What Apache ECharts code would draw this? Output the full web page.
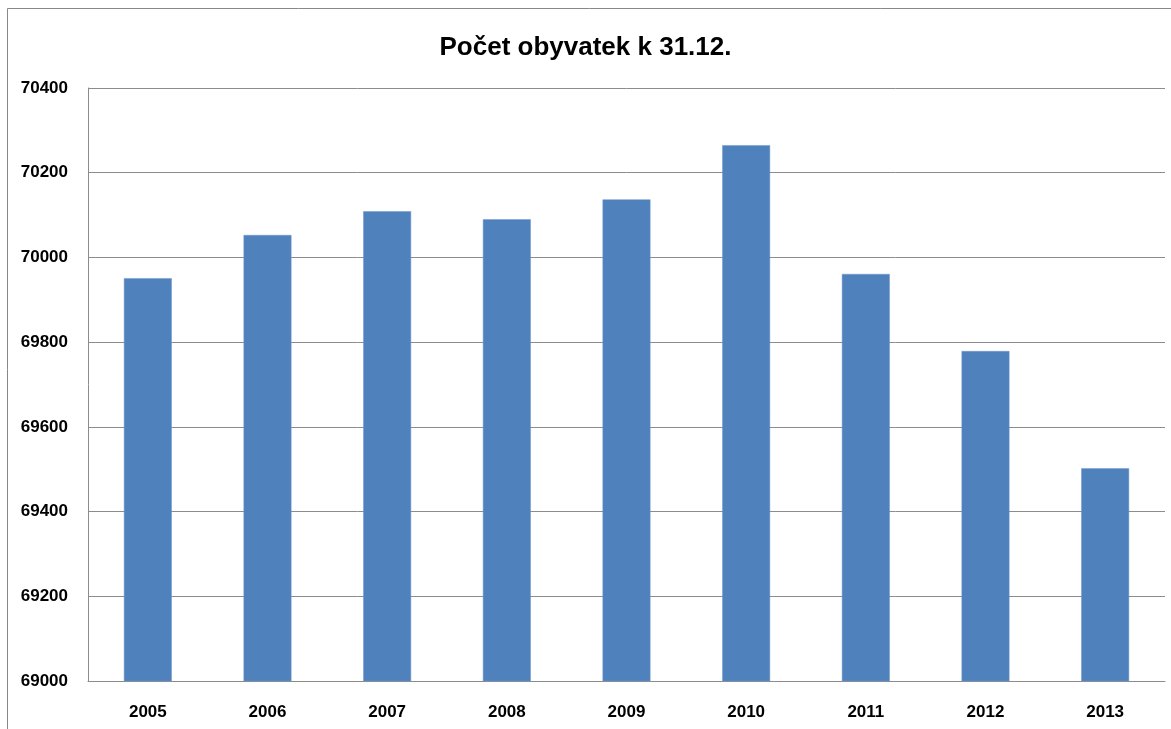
<!DOCTYPE html>
<html>
<head>
<meta charset="utf-8">
<script src="https://cdn.jsdelivr.net/npm/echarts@6/dist/echarts.min.js"></script>
<style>
html,body{margin:0;padding:0;background:#fff;}
#chart{width:1171px;height:729px;}
</style>
</head>
<body>
<div id="chart"></div>
<script>
const titleText = 'Počet obyvatek k 31.12.';
const years = ['2005','2006','2007','2008','2009','2010','2011','2012','2013'];
const population = [69951, 70053, 70109, 70090, 70137, 70265, 69961, 69779, 69502];
const yMin = 69000, yMax = 70400, yStep = 200;

const chart = echarts.init(document.getElementById('chart'));
const font = '"Liberation Sans", Arial, sans-serif';
chart.setOption({
  animation: false,
  backgroundColor: '#ffffff',
  title: {
    text: titleText,
    left: 'center',
    top: 30,
    textStyle: {fontFamily: font, fontWeight: 'bold', fontSize: 26, color: '#000'}
  },
  graphic: [{
    type: 'rect',
    shape: {x: 7.5, y: 8.5, width: 1300, height: 900},
    style: {fill: 'none', stroke: '#888', lineWidth: 1},
    silent: true
  }],
  grid: {left: 88, right: 6, top: 88, bottom: 48},
  xAxis: {
    type: 'category',
    data: years,
    axisLine: {show: true, lineStyle: {color: '#8c8c8c', width: 1}},
    axisTick: {show: false},
    axisLabel: {fontFamily: font, fontWeight: 'bold', fontSize: 17, color: '#000', margin: 23}
  },
  yAxis: {
    type: 'value',
    min: yMin, max: yMax, interval: yStep,
    axisLine: {show: true, lineStyle: {color: '#8c8c8c', width: 1}},
    axisTick: {show: false},
    splitLine: {show: true, lineStyle: {color: '#8c8c8c', width: 1}},
    axisLabel: {fontFamily: font, fontWeight: 'bold', fontSize: 17, color: '#000', margin: 20,
      formatter: function (v) { return String(v); }}
  },
  series: [{
    type: 'bar',
    data: population,
    barCategoryGap: '60%',
    itemStyle: {color: '#4f81bd', borderColor: '#6f97cc', borderWidth: 0.5}
  }]
});
</script>
</body>
</html>
